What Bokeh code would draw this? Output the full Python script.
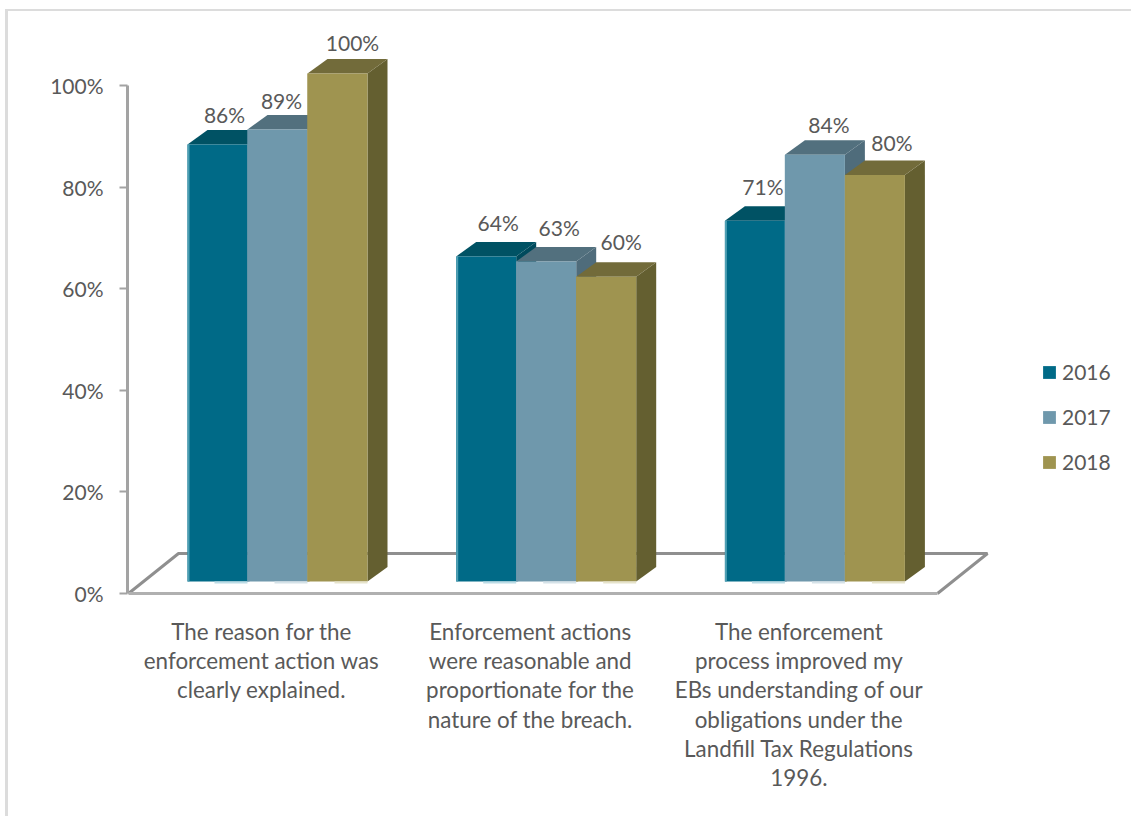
from bokeh.core.properties import value
from bokeh.embed import file_html
from bokeh.models import FixedTicker, InlineStyleSheet, Legend, LegendItem, LinearAxis, PrintfTickFormatter, Range1d
from bokeh.plotting import figure
from bokeh.resources import INLINE

# Survey results by statement and year (percent agreeing)
years = ["2016", "2017", "2018"]
statements = [
    ["The reason for the", "enforcement action was", "clearly explained."],
    ["Enforcement actions", "were reasonable and", "proportionate for the", "nature of the breach."],
    ["The enforcement", "process improved my", "EBs understanding of our", "obligations under the",
     "Landfill Tax Regulations", "1996."],
]
values_2016 = [86, 64, 71]
values_2017 = [89, 63, 84]
values_2018 = [100, 60, 80]
series_values = [values_2016, values_2017, values_2018]
y_ticks = [0, 20, 40, 60, 80, 100]

# Face colours per series: front, top, side, left edge, foot highlight
front_colors = ["#006a87", "#6f98ac", "#9f9450"]
top_colors = ["#005264", "#52707e", "#726b3a"]
side_colors = ["#004a5c", "#4f6c7b", "#645f30"]
edge_colors = ["#4f9fb3", "#6f98ac", "#9f9450"]
foot_colors = ["#bcdce6", "#d5e2e8", "#e6e3cb"]

TEXT = "#595959"
AXIS = "#a3a3a3"
FONT = "Lato"
NUM_SIZE = "21px"
CAT_SIZE = "22.4px"

# Vertical scale: 5.08 px per percentage point, zero sits 593 px from the top
PX_PER_PCT = 5.08
ZERO_PX = 593
HEIGHT = 816
WIDTH = 1131
LEFT = 127


def pct(px_up):
    """Convert a pixel distance to percentage-axis units."""
    return px_up / PX_PER_PCT


# Layout of the pseudo-3D scene
GROUP_START = 187
GROUP_STEP = 268.7
BAR_W = 60
DEPTH_X = 20
DEPTH_Y = pct(14.5)
BASE = pct(12)

# Hand-placed data-label offsets from each bar's front centre (px)
label_dx = [[7, 4, 15], [12, 13, 15], [8, 14, 17]]
label_dy = [[30, 29, 31], [34, 34, 35], [34, 30, 33]]

# Chart-area border along the top and left edges of the page
frame_css = InlineStyleSheet(css="""
:host { position: relative; }
:host::before {
  content: ''; position: absolute; left: 5px; top: 9px; right: 0; bottom: 0; z-index: 100;
  border-left: 3px solid #dcdcdc; border-top: 2px solid #dcdcdc; pointer-events: none;
}
""")

p = figure(
    width=WIDTH, height=HEIGHT,
    x_range=Range1d(LEFT, WIDTH),
    y_range=Range1d(-(HEIGHT - ZERO_PX) / PX_PER_PCT, ZERO_PX / PX_PER_PCT),
    output_backend="svg", toolbar_location=None,
    x_axis_location=None, y_axis_location=None,
    min_border_left=LEFT, min_border_right=0, min_border_top=0, min_border_bottom=0,
    outline_line_color=None, stylesheets=[frame_css],
)
p.grid.visible = False

# Value axis
axis = LinearAxis(
    ticker=FixedTicker(ticks=y_ticks), formatter=PrintfTickFormatter(format="%d%%"),
    bounds=(0, 100), axis_line_color=AXIS, axis_line_width=3,
    major_tick_line_color=AXIS, major_tick_line_width=2, major_tick_out=8, major_tick_in=0,
    minor_tick_line_color=None, major_label_standoff=16,
    major_label_text_font=FONT, major_label_text_font_size=NUM_SIZE, major_label_text_color=TEXT,
)
p.add_layout(axis, "left")

# Floor of the scene
floor_x = [128, 178, 987, 937]
floor_y = [0, pct(40), pct(40), 0]
p.line(floor_x, floor_y, line_color="#8f8f8f", line_width=3)
p.line([floor_x[0], floor_x[3]], [0, 0], line_color="#b0b0b0", line_width=3)

# Bars: side and top faces first so that the next bar's front overlaps them
front_renderers = [None, None, None]
for g in range(len(statements)):
    for s in range(len(years)):
        v = series_values[s][g]
        x0 = GROUP_START + g * GROUP_STEP + s * BAR_W
        x1 = x0 + BAR_W
        y1 = BASE + v
        p.patch([x1, x1 + DEPTH_X, x1 + DEPTH_X, x1], [BASE, BASE + DEPTH_Y, y1 + DEPTH_Y, y1],
                fill_color=side_colors[s], line_color=None)
        p.patch([x0, x1, x1 + DEPTH_X, x0 + DEPTH_X], [y1, y1, y1 + DEPTH_Y, y1 + DEPTH_Y],
                fill_color=top_colors[s], line_color=None)
        r = p.quad(left=x0, right=x1, bottom=BASE, top=y1, fill_color=front_colors[s], line_color=None)
        front_renderers[s] = r
        p.quad(left=x0 + BAR_W * 0.45, right=x1, bottom=BASE - pct(2), top=BASE,
               fill_color=foot_colors[s], line_color=None)
        p.quad(left=x0, right=x0 + 2, bottom=BASE, top=y1, fill_color=edge_colors[s], line_color=None)

# Data labels
for g in range(len(statements)):
    for s in range(len(years)):
        v = series_values[s][g]
        cx = GROUP_START + g * GROUP_STEP + (s + 0.5) * BAR_W
        p.text([cx + label_dx[g][s]], [BASE + v + pct(label_dy[g][s])], text=[f"{v}%"],
               text_align="center", text_baseline="middle", text_font=value(FONT),
               text_font_size=NUM_SIZE, text_color=TEXT)

# Category labels, one text per wrapped line
for g, lines in enumerate(statements):
    cx = 261 + g * 268.7
    for i, line in enumerate(lines):
        p.text([cx], [-pct(38 + i * 29.2)], text=[line], text_align="center", text_baseline="middle",
               text_font=value(FONT), text_font_size=CAT_SIZE, text_color=TEXT)

legend = Legend(
    items=[LegendItem(label=y, renderers=[r]) for y, r in zip(years, front_renderers)],
    location=(914, 342), orientation="vertical", glyph_width=16, glyph_height=16,
    spacing=20, label_standoff=5, padding=0, margin=0, border_line_color=None, background_fill_alpha=0,
    label_text_font=FONT, label_text_font_size=NUM_SIZE, label_text_color=TEXT, label_height=25,
)
p.add_layout(legend, "center")

open("out.html", "w").write(file_html(p, INLINE))
